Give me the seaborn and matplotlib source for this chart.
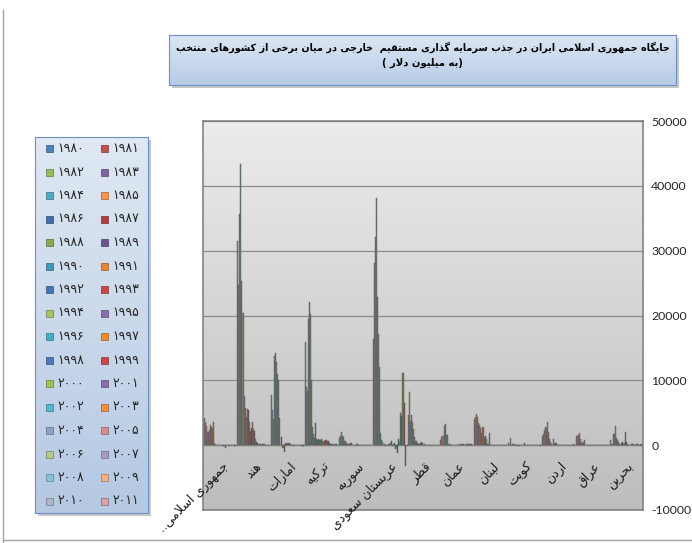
import matplotlib
matplotlib.use('Agg')
import matplotlib.pyplot as plt
from matplotlib.patches import Rectangle
from matplotlib.lines import Line2D
from matplotlib.colors import LinearSegmentedColormap, to_rgb
import numpy as np
import pandas as pd
import seaborn as sns

plt.rcParams['axes.unicode_minus'] = False

# data (million USD), 1980 -> 2011
years = list(range(1980, 2012))
countries = ['جمهوری اسلامی..', 'هند', 'امارات', 'ترکیه', 'سوریه', 'عربستان سعودی',
             'قطر', 'عمان', 'لبنان', 'کویت', 'اردن', 'عراق', 'بحرین']

iran = [-188, -138, -37, -31, -3, -38, -141, -47, 61, -19, -362, 23, -170, -50, 2, 17,
        26, 53, 24, 35, 39, 360, 3648, 2700, 2863, 3136, 2317, 2005, 1980, 2983, 3649, 4150]
india = [79, 92, 72, 6, 19, 106, 118, 212, 91, 252, 237, 75, 277, 550, 973, 2151,
         2525, 3619, 2633, 2168, 3588, 5478, 5630, 4323, 5771, 7606, 20336, 25350, 43406, 35581, 24640, 31554]
uae = [-120, -100, -97, 8, 16, 38, 13, 12, -12, -10, -116, 29, 40, 256, 396, 399,
       301, 232, 258, -985, -506, 1184, 95, 4256, 10004, 10900, 12806, 14187, 13724, 4003, 5500, 7679]
turkey = [18, 141, 103, 87, 113, 99, 125, 106, 354, 663, 684, 810, 844, 636, 608, 885,
          722, 805, 940, 783, 982, 3352, 1082, 1752, 2785, 10031, 20185, 22047, 19504, 8411, 9036, 15876]
syria = [0, 0, 2, -1, 2, 0, 4, 5, 0, 0, 71, 62, 67, 176, 251, 100,
         89, 80, 82, 263, 270, 110, 115, 160, 275, 583, 659, 1242, 1467, 2000, 1469, 1059]
saudi = [-3192, 6498, 11128, 4500, 4944, 491, 967, -1175, -328, -654, 300, 160, -79, 700, 350, 200,
         150, 60, 90, -200, 183, 20, 453, 778, 1942, 12097, 17140, 22821, 38151, 32100, 28105, 16308]
qatar = [0, 0, 0, 0, 0, 0, 0, 0, 0, 0, 5, 45, 50, 72, 132, 94,
         339, 418, 347, 113, 252, 296, 624, 625, 1199, 2500, 3500, 4700, 3779, 8125, 4670, -87]
oman = [98, 138, 128, 154, 156, 161, 140, 33, 91, 111, 142, 149, 89, 146, 76, 46,
        75, 65, 101, 39, 83, 5, 122, 26, 111, 1538, 1597, 3332, 2952, 1485, 1243, 788]
lebanon = [0, 0, 0, 0, 0, 0, 0, 0, 0, 0, 6, 2, 4, 7, 23, 35,
           80, 1800, 200, 250, 964, 1451, 1336, 2860, 1899, 2624, 3132, 3376, 4333, 4804, 4280, 4100]
kuwait = [-60, -20, 5, 8, 3, 1, -5, 22, 19, 0, 6, 2, -35, 13, 0, 7,
          347, 20, 59, 72, 16, -147, 4, -67, 24, 234, 121, 112, -6, 1114, 81, 399]
jordan = [34, 141, 67, 33, 27, 23, 23, 39, 24, -1, 38, -12, 41, -34, 3, 13,
          16, 361, 310, 158, 913, 100, 238, 436, 937, 1984, 3544, 2622, 2826, 2413, 1651, 1469]
iraq = [0, 0, 0, 0, 0, 0, 0, 0, 0, 0, 0, 0, 0, 0, 0, 0,
        0, 0, 0, 0, 0, 0, 0, 800, 300, 515, 383, 972, 1856, 1598, 1426, 1396]
bahrain = [-150, 120, 60, 90, 200, 160, 50, 30, 180, 250, 183, 10, -7, -22, 208, 431,
           2048, 329, 180, 454, 364, 80, 217, 517, 865, 1049, 2915, 1756, 1794, 257, 156, 781]

series = [iran, india, uae, turkey, syria, saudi, qatar, oman, lebanon, kuwait, jordan, iraq, bahrain]

year_colors = ['#4F81BD', '#C0504D', '#9BBB59', '#8064A2', '#4BACC6', '#F79646',
               '#3F6FAB', '#B0403D', '#8AAA4A', '#6F5491', '#3A9BB5', '#E68535',
               '#4575B5', '#CC4646', '#A6C460', '#8A6CB0', '#40B0C8', '#F08A30',
               '#4A78B8', '#C84848', '#A0C050', '#8A6AB0', '#50B8D0', '#F09040',
               '#8EA2C8', '#D88C8C', '#B4C888', '#A898C4', '#88C4D4', '#F8B080',
               '#B0B8C8', '#D8A0A8']

yticks = [-10000, 0, 10000, 20000, 30000, 40000, 50000]
ytick_labels = ['-10000', '0', '10000', '20000', '30000', '40000', '50000']

title1 = 'جایگاه جمهوری اسلامی ایران در جذب سرمایه گذاری مستقیم  خارجی در میان برخی از کشورهای منتخب'
title2 = 'به میلیون دلار'

# --- minimal persian shaping (matplotlib has no bidi / joining) ---
FORMS = {
    'ا': ('\uFE8D', '\uFE8E', None, None), 'آ': ('\uFE81', '\uFE82', None, None),
    'ب': ('\uFE8F', '\uFE90', '\uFE91', '\uFE92'), 'پ': ('\uFB56', '\uFB57', '\uFB58', '\uFB59'),
    'ت': ('\uFE95', '\uFE96', '\uFE97', '\uFE98'), 'ث': ('\uFE99', '\uFE9A', '\uFE9B', '\uFE9C'),
    'ج': ('\uFE9D', '\uFE9E', '\uFE9F', '\uFEA0'), 'چ': ('\uFB7A', '\uFB7B', '\uFB7C', '\uFB7D'),
    'ح': ('\uFEA1', '\uFEA2', '\uFEA3', '\uFEA4'), 'خ': ('\uFEA5', '\uFEA6', '\uFEA7', '\uFEA8'),
    'د': ('\uFEA9', '\uFEAA', None, None), 'ذ': ('\uFEAB', '\uFEAC', None, None),
    'ر': ('\uFEAD', '\uFEAE', None, None), 'ز': ('\uFEAF', '\uFEB0', None, None),
    'ژ': ('\uFB8A', '\uFB8B', None, None),
    'س': ('\uFEB1', '\uFEB2', '\uFEB3', '\uFEB4'), 'ش': ('\uFEB5', '\uFEB6', '\uFEB7', '\uFEB8'),
    'ص': ('\uFEB9', '\uFEBA', '\uFEBB', '\uFEBC'), 'ض': ('\uFEBD', '\uFEBE', '\uFEBF', '\uFEC0'),
    'ط': ('\uFEC1', '\uFEC2', '\uFEC3', '\uFEC4'), 'ظ': ('\uFEC5', '\uFEC6', '\uFEC7', '\uFEC8'),
    'ع': ('\uFEC9', '\uFECA', '\uFECB', '\uFECC'), 'غ': ('\uFECD', '\uFECE', '\uFECF', '\uFED0'),
    'ف': ('\uFED1', '\uFED2', '\uFED3', '\uFED4'), 'ق': ('\uFED5', '\uFED6', '\uFED7', '\uFED8'),
    'ک': ('\uFB8E', '\uFB8F', '\uFB90', '\uFB91'), 'گ': ('\uFB92', '\uFB93', '\uFB94', '\uFB95'),
    'ل': ('\uFEDD', '\uFEDE', '\uFEDF', '\uFEE0'), 'م': ('\uFEE1', '\uFEE2', '\uFEE3', '\uFEE4'),
    'ن': ('\uFEE5', '\uFEE6', '\uFEE7', '\uFEE8'), 'و': ('\uFEED', '\uFEEE', None, None),
    'ه': ('\uFEE9', '\uFEEA', '\uFEEB', '\uFEEC'), 'ی': ('\uFBFC', '\uFBFD', '\uFBFE', '\uFBFF'),
}


def fa(s):
    s = s.replace('\u0643', '\u06a9').replace('\u064a', '\u06cc')
    out = []
    i = 0
    while i < len(s):
        c = s[i]
        f = FORMS.get(c)
        if f is None:
            out.append(c)
            i += 1
            continue
        prev = s[i - 1] if i > 0 else ''
        p = prev in FORMS and FORMS[prev][2] is not None
        if c == 'ل' and i + 1 < len(s) and s[i + 1] == 'ا':
            out.append('\uFEFC' if p else '\uFEFB')
            i += 2
            continue
        n = f[2] is not None and i + 1 < len(s) and s[i + 1] in FORMS
        out.append(f[3] if (p and n) else f[1] if p else f[2] if n else f[0])
        i += 1
    return ''.join(out[::-1])


def persian_digits(v):
    return str(v).translate(str.maketrans('0123456789', '۰۱۲۳۴۵۶۷۸۹'))


def gradient_cmap(c1, c2):
    return LinearSegmentedColormap.from_list('g', [c1, c2])


def dim(c, k=0.3):
    r = np.array(to_rgb(c))
    return tuple(r * (1 - k) + np.array(to_rgb('#3a3a3a')) * k)


df = pd.DataFrame({
    'country': np.repeat(countries, len(years)),
    'year': [str(y) for y in years] * len(countries),
    'value': np.concatenate(series),
})

W, H = 692, 543
fig = plt.figure(figsize=(W / 100, H / 100), dpi=100)
fig.patch.set_facecolor('white')


def px_axes(x0, y0, x1, y1):
    return fig.add_axes([x0 / W, 1 - y1 / H, (x1 - x0) / W, (y1 - y0) / H])


# main plot
ax = px_axes(203, 121, 643, 510)
pal = {str(y): dim(c, 0.5) for y, c in zip(years, year_colors)}
sns.barplot(data=df, x='country', y='value', hue='year', order=countries,
            hue_order=[str(y) for y in years[::-1]], palette=pal, width=0.97,
            errorbar=None, saturation=1, linewidth=0.3, edgecolor='#5a5a5a',
            legend=False, ax=ax)
ax.imshow(np.linspace(1, 0, 256).reshape(-1, 1), extent=[-0.5, 12.5, -10000, 50000],
          aspect='auto', cmap=gradient_cmap('#bdbdbd', '#ececec'), zorder=0)
ax.set_xlim(-0.5, 12.5)
ax.set_ylim(-10000, 50000)
ax.set_axisbelow(True)
ax.yaxis.grid(True, color='#8c8c8c', lw=0.9)
ax.axhline(0, color='#8a8a8a', lw=1, zorder=0.6)
ax.set_yticks(yticks)
ax.set_yticklabels(ytick_labels)
ax.yaxis.tick_right()
ax.tick_params(axis='y', length=0, pad=6, labelsize=8.8, labelcolor='#262626')
ax.tick_params(axis='x', length=0, labelbottom=False)
ax.set_xlabel('')
ax.set_ylabel('')
for s in ax.spines.values():
    s.set_color('#7a7a7a')
    s.set_linewidth(1.1)
for lab in ax.get_yticklabels():
    lab.set_family('Lato')
for i, name in enumerate(countries):
    ax.text(i + 0.05, -2300, fa(name), rotation=45, rotation_mode='anchor',
            ha='right', va='top', fontsize=9, family='DejaVu Sans', color='#1a1a1a')

# title box
fig.add_artist(Rectangle((172 / W, 1 - 88 / H), 507 / W, 50 / H, transform=fig.transFigure,
                         facecolor='#c8c8c8', edgecolor='none', zorder=0))
axt = px_axes(169, 35, 676, 85)
axt.imshow(np.linspace(1, 0, 64).reshape(-1, 1), extent=[0, 1, 0, 1], aspect='auto',
           cmap=gradient_cmap('#b9cce6', '#dbe6f4'))
axt.set_xlim(0, 1)
axt.set_ylim(0, 1)
axt.set_xticks([])
axt.set_yticks([])
for s in axt.spines.values():
    s.set_color('#6d8fc4')
axt.text(0.5, 0.76, fa(title1), ha='center', va='center', fontsize=6.9, fontweight='bold',
         family='DejaVu Sans', color='black')
axt.text(0.5, 0.44, '( ' + fa(title2) + ')', ha='center', va='center', fontsize=7.2,
         fontweight='bold', family='DejaVu Sans', color='black')

# legend box (row-major, two columns)
fig.add_artist(Rectangle((38 / W, 1 - 516 / H), 113 / W, 376 / H, transform=fig.transFigure,
                         facecolor='#c8c8c8', edgecolor='none', zorder=0))
axl = px_axes(35, 137, 148, 513)
axl.imshow(np.linspace(1, 0, 64).reshape(-1, 1), extent=[0, 113, 376, 0], aspect='auto',
           cmap=gradient_cmap('#b5c9e3', '#dfe8f3'))
axl.set_xlim(0, 113)
axl.set_ylim(376, 0)
axl.set_xticks([])
axl.set_yticks([])
for s in axl.spines.values():
    s.set_color('#6d8fc4')
for k, (y, c) in enumerate(zip(years, year_colors)):
    row, col = divmod(k, 2)
    cy = 11.5 + row * 23.5
    mx = 11 if col == 0 else 66
    axl.add_patch(Rectangle((mx, cy - 3.5), 7, 7, facecolor=c, edgecolor=dim(c, 0.4), lw=0.6))
    axl.text(mx + 11, cy, persian_digits(y), ha='left', va='center', fontsize=9,
             family='DejaVu Sans', color='#262626')

# chart area border fragments
fig.add_artist(Line2D([3 / W, 3 / W], [0, 1 - 10 / H], color='#a6a6a6', lw=1))
fig.add_artist(Line2D([3 / W, 1], [1 - 540 / H, 1 - 540 / H], color='#a6a6a6', lw=1))

fig.savefig('out.png', dpi=100)
